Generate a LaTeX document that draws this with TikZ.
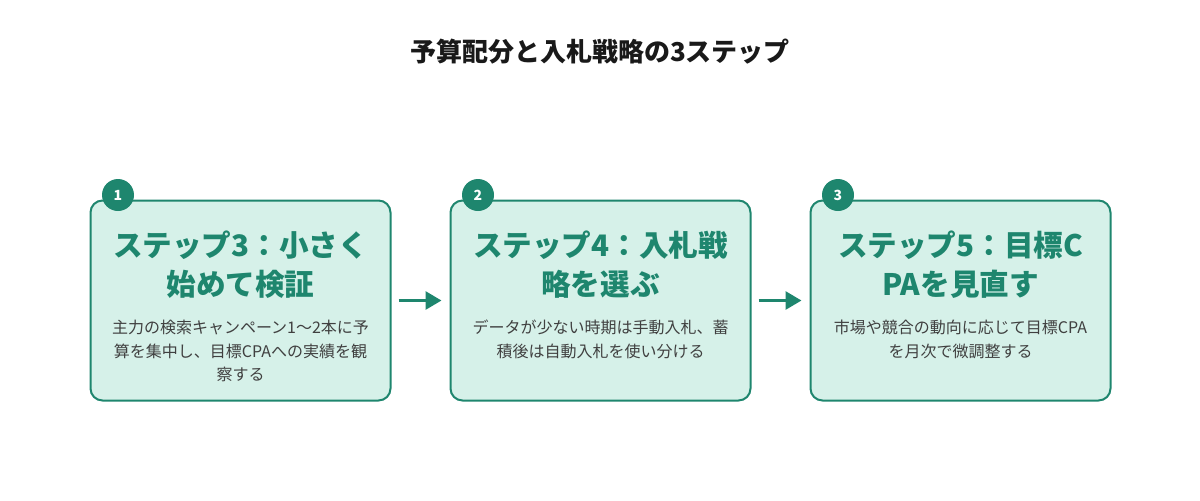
\documentclass[tikz,border=0pt]{standalone}
\usepackage{fontspec}
\setmainfont{Noto Sans CJK JP}
\usetikzlibrary{positioning,arrows.meta}
\definecolor{stepteal}{RGB}{30,134,110}
\definecolor{stepfill}{RGB}{214,241,233}
\definecolor{bodygray}{RGB}{64,64,64}
\begin{document}
\begin{tikzpicture}[x=0.5pt,y=-0.5pt,
		stepbox/.style = {shape=rectangle, rounded corners=6pt, draw=stepteal,
			line width=1pt, fill=stepfill, minimum width=150pt, minimum height=100pt},
		headtext/.style = {anchor=north, inner sep=0pt, align=center, text=stepteal,
			font=\bfseries\fontsize{14.8pt}{19.5pt}\selectfont},
		bodytext/.style = {inner sep=0pt, align=center, text=bodygray,
			font=\fontsize{8pt}{11.8pt}\selectfont},
		badge/.style = {circle, fill=stepteal, minimum size=16pt, inner sep=0pt,
			text=white, font=\bfseries\fontsize{7pt}{8pt}\selectfont},
		steparrow/.style = {draw=stepteal, line width=1.5pt,
			-{Triangle[length=8pt,width=9pt]}, shorten <=3.5pt, shorten >=4pt}]
	\useasboundingbox (0,0) rectangle (1200,500);
	\node[font=\bfseries\fontsize{13pt}{16pt}\selectfont, text=black!90] (title) at (600,52) {予算配分と入札戦略の3ステップ};
	
	% the three steps
	\node[stepbox] (box1) at (240.5,300.5) {};
	\node[stepbox] (box2) at (600.5,300.5) {};
	\node[stepbox] (box3) at (960.5,300.5) {};
	
	\node[headtext] (head1) at ([yshift=-15.5pt]box1.north) {ステップ3：小さく\\始めて検証};
	\node[headtext] (head2) at ([yshift=-15.5pt]box2.north) {ステップ4：入札戦\\略を選ぶ};
	\node[headtext] (head3) at ([yshift=-15.5pt]box3.north) {ステップ5：目標C\\PAを見直す};
	
	\node[bodytext, below=10.5pt of head1] (body1) {主力の検索キャンペーン1〜2本に予\\算を集中し、目標CPAへの実績を観\\察する};
	\node[bodytext, below=10.5pt of head2] (body2) {データが少ない時期は手動入札、蓄\\積後は自動入札を使い分ける};
	\node[bodytext, below=10.5pt of head3] (body3) {市場や競合の動向に応じて目標CPA\\を月次で微調整する};
	
	\node[badge] (num1) at (118,195) {1};
	\node[badge] (num2) at (478,195) {2};
	\node[badge] (num3) at (838,195) {3};
	
	\draw[steparrow] (box1) -- (box2);
	\draw[steparrow] (box2) -- (box3);
\end{tikzpicture}
\end{document}
